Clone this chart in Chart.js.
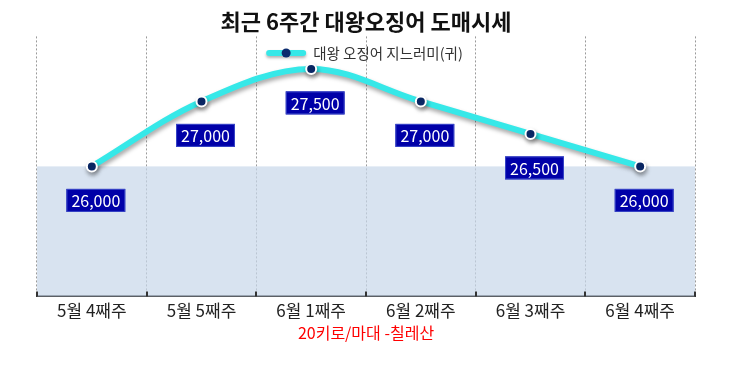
<!DOCTYPE html>
<html>
<head>
<meta charset="utf-8">
<script src="https://cdn.jsdelivr.net/npm/chart.js@4"></script>
<style>
  html, body { margin: 0; padding: 0; background: #fff; }
  #wrap { width: 750px; height: 375px; }
</style>
</head>
<body>
<div id="wrap"><canvas id="chart"></canvas></div>
<script>
'use strict';

const WEEKS = ['5월 4째주', '5월 5째주', '6월 1째주', '6월 2째주', '6월 3째주', '6월 4째주'];
const PRICES = [26000, 27000, 27500, 27000, 26500, 26000];
const SERIES_NAME = '대왕 오징어 지느러미(귀)';
const TITLE = '최근 6주간 대왕오징어 도매시세';
const SUBTITLE = '20키로/마대 -칠레산';
const Y_RANGE = [24000, 28000];
const BAND = [24000, 26000];

const FONT = "'Noto Sans CJK KR', 'Noto Sans', sans-serif";
const LINE_COLOR = '#36e8e8';
const POINT_COLOR = '#0b2b6e';

// shaded band behind the line + small up ticks on the axis
const bandPlugin = {
    id: 'band',
    beforeDatasetsDraw(chart) {
        const {ctx, chartArea, scales} = chart;
        const top = scales.y.getPixelForValue(BAND[1]);
        const bottom = scales.y.getPixelForValue(BAND[0]);
        ctx.save();
        ctx.fillStyle = 'rgba(200,215,233,0.7)';
        ctx.fillRect(chartArea.left, top, chartArea.right - chartArea.left, bottom - top);
        ctx.restore();
    },
    afterDraw(chart) {
        const {ctx, chartArea, scales} = chart;
        const x = scales.x;
        const half = (x.getPixelForValue(1) - x.getPixelForValue(0)) / 2;
        ctx.save();
        ctx.strokeStyle = '#333';
        ctx.lineWidth = 2;
        for (let i = 0; i <= WEEKS.length; i++) {
            const px = Math.round(x.getPixelForValue(i) - half);
            ctx.beginPath();
            ctx.moveTo(px, chartArea.bottom - 5);
            ctx.lineTo(px, chartArea.bottom);
            ctx.stroke();
        }
        ctx.restore();
    }
};

// drop shadow under the line
const shadowPlugin = {
    id: 'lineShadow',
    beforeDatasetDraw(chart) {
        const ctx = chart.ctx;
        ctx.save();
        ctx.shadowColor = 'rgba(0,0,0,0.35)';
        ctx.shadowBlur = 4;
        ctx.shadowOffsetX = 1;
        ctx.shadowOffsetY = 3;
    },
    afterDatasetDraw(chart) {
        chart.ctx.restore();
    }
};

// value boxes under each point
const valueLabels = {
    id: 'valueLabels',
    afterDatasetsDraw(chart) {
        const ctx = chart.ctx;
        const meta = chart.getDatasetMeta(0);
        ctx.save();
        ctx.font = '16px ' + FONT;
        ctx.textAlign = 'center';
        ctx.textBaseline = 'middle';
        meta.data.forEach((pt, i) => {
            const txt = PRICES[i].toLocaleString('en-US');
            const w = ctx.measureText(txt).width + 10;
            const h = 23;
            const cx = pt.x + 4;
            const cy = pt.y + 34;
            ctx.fillStyle = '#0000a8';
            ctx.fillRect(cx - w / 2, cy - h / 2, w, h);
            ctx.strokeStyle = '#3a48c8';
            ctx.lineWidth = 1;
            ctx.strokeRect(cx - w / 2 + 0.5, cy - h / 2 + 0.5, w - 1, h - 1);
            ctx.fillStyle = '#fff';
            ctx.fillText(txt, cx, cy + 1);
        });
        ctx.restore();
    }
};

// legend drawn inside the plot, line sample with a dot
const innerLegend = {
    id: 'innerLegend',
    afterDraw(chart) {
        const ctx = chart.ctx;
        const area = chart.chartArea;
        const ds = chart.data.datasets[0];
        const y = 53;
        ctx.save();
        ctx.font = '14.5px ' + FONT;
        const tw = ctx.measureText(ds.label).width;
        const sample = 34;
        const gap = 10;
        const startX = (area.left + area.right) / 2 - (sample + gap + tw) / 2;
        ctx.strokeStyle = ds.borderColor;
        ctx.lineWidth = 6;
        ctx.lineCap = 'round';
        ctx.shadowColor = 'rgba(0,0,0,0.3)';
        ctx.shadowBlur = 3;
        ctx.shadowOffsetY = 2;
        ctx.beginPath();
        ctx.moveTo(startX, y);
        ctx.lineTo(startX + sample, y);
        ctx.stroke();
        ctx.shadowColor = 'transparent';
        ctx.beginPath();
        ctx.arc(startX + sample / 2, y, 4.5, 0, Math.PI * 2);
        ctx.fillStyle = POINT_COLOR;
        ctx.fill();
        ctx.fillStyle = '#333';
        ctx.textBaseline = 'middle';
        ctx.fillText(ds.label, startX + sample + gap, y);
        ctx.restore();
    }
};

new Chart(document.getElementById('chart').getContext('2d'), {
    type: 'line',
    data: {
        labels: WEEKS,
        datasets: [{
            label: SERIES_NAME,
            data: PRICES,
            borderColor: LINE_COLOR,
            borderWidth: 6,
            tension: 0.35,
            pointRadius: 5,
            pointHoverRadius: 5,
            pointBackgroundColor: POINT_COLOR,
            pointBorderColor: '#fff',
            pointBorderWidth: 2,
            fill: false
        }]
    },
    options: {
        responsive: true,
        maintainAspectRatio: false,
        animation: false,
        layout: { padding: { left: 37, right: 55, top: 0, bottom: 28 } },
        plugins: {
            legend: { display: false },
            tooltip: { enabled: false },
            title: {
                display: true,
                text: TITLE,
                color: '#111',
                font: { family: FONT, size: 22, weight: 'bold' },
                padding: { top: 8, bottom: 2 }
            },
            subtitle: {
                display: true,
                position: 'bottom',
                text: SUBTITLE,
                color: '#ff0000',
                font: { family: FONT, size: 16 },
                padding: { top: -1, bottom: 4 }
            }
        },
        scales: {
            x: {
                offset: true,
                grid: {
                    offset: true,
                    color: '#9a9a9a',
                    lineWidth: 1,
                    drawTicks: false
                },
                border: { display: true, color: '#333', width: 2, dash: [2, 2] },
                ticks: {
                    color: '#222',
                    padding: 4,
                    font: { family: FONT, size: 17 }
                }
            },
            y: {
                display: false,
                min: Y_RANGE[0],
                max: Y_RANGE[1]
            }
        }
    },
    plugins: [bandPlugin, shadowPlugin, valueLabels, innerLegend]
});
</script>
</body>
</html>
